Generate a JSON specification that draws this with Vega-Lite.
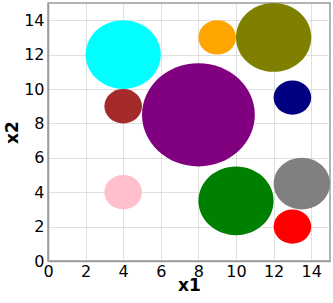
{
  "$schema": "https://vega.github.io/schema/vega-lite/v6.json",
  "width": 282,
  "height": 258,
  "autosize": {"type": "none"},
  "padding": {"left": 48, "top": 3, "right": 3, "bottom": 42},
  "background": "white",
  "config": {
    "font": "DejaVu Sans",
    "view": {"stroke": "#9a9a9a", "strokeWidth": 1.5},
    "axis": {
      "domainColor": "#9a9a9a",
      "domainWidth": 1.5,
      "ticks": false,
      "grid": true,
      "gridColor": "#cccccc",
      "gridOpacity": 0.6,
      "gridWidth": 1,
      "labelFont": "DejaVu Sans",
      "labelFontSize": 16,
      "labelColor": "black",
      "labelFlush": false,
      "labelOverlap": false,
      "titleFont": "DejaVu Sans",
      "titleFontSize": 17,
      "titleFontWeight": "bold",
      "titleColor": "black",
      "zindex": 1
    }
  },
  "data": {
    "values": [
      {"x1": 4, "x2": 12, "r": 2, "color": "cyan"},
      {"x1": 9, "x2": 13, "r": 1, "color": "orange"},
      {"x1": 12, "x2": 13, "r": 2, "color": "olive"},
      {"x1": 4, "x2": 9, "r": 1, "color": "brown"},
      {"x1": 8, "x2": 8.5, "r": 3, "color": "purple"},
      {"x1": 13, "x2": 9.5, "r": 1, "color": "navy"},
      {"x1": 4, "x2": 4, "r": 1, "color": "pink"},
      {"x1": 10, "x2": 3.5, "r": 2, "color": "green"},
      {"x1": 13.5, "x2": 4.5, "r": 1.5, "color": "gray"},
      {"x1": 13, "x2": 2, "r": 1, "color": "red"}
    ]
  },
  "mark": {
    "type": "point",
    "filled": true,
    "opacity": 1,
    "strokeWidth": 0,
    "clip": true,
    "shape": "M 1 0 C 1 0.5054 0.5523 0.915 0 0.915 C -0.5523 0.915 -1 0.5054 -1 0 C -1 -0.5054 -0.5523 -0.915 0 -0.915 C 0.5523 -0.915 1 -0.5054 1 0 Z"
  },
  "encoding": {
    "x": {
      "field": "x1",
      "type": "quantitative",
      "scale": {"domain": [0, 15], "nice": false},
      "axis": {"values": [0, 2, 4, 6, 8, 10, 12, 14], "labelPadding": 2, "titleY": 29, "titleBaseline": "alphabetic"}
    },
    "y": {
      "field": "x2",
      "type": "quantitative",
      "scale": {"domain": [0, 15], "nice": false},
      "axis": {"values": [0, 2, 4, 6, 8, 10, 12, 14], "labelPadding": 4, "titleX": -31, "titleBaseline": "alphabetic"}
    },
    "size": {
      "field": "r",
      "type": "quantitative",
      "scale": {"type": "pow", "exponent": 2, "domain": [0, 3], "range": [0, 12724]},
      "legend": null
    },
    "color": {"field": "color", "type": "nominal", "scale": null}
  }
}
